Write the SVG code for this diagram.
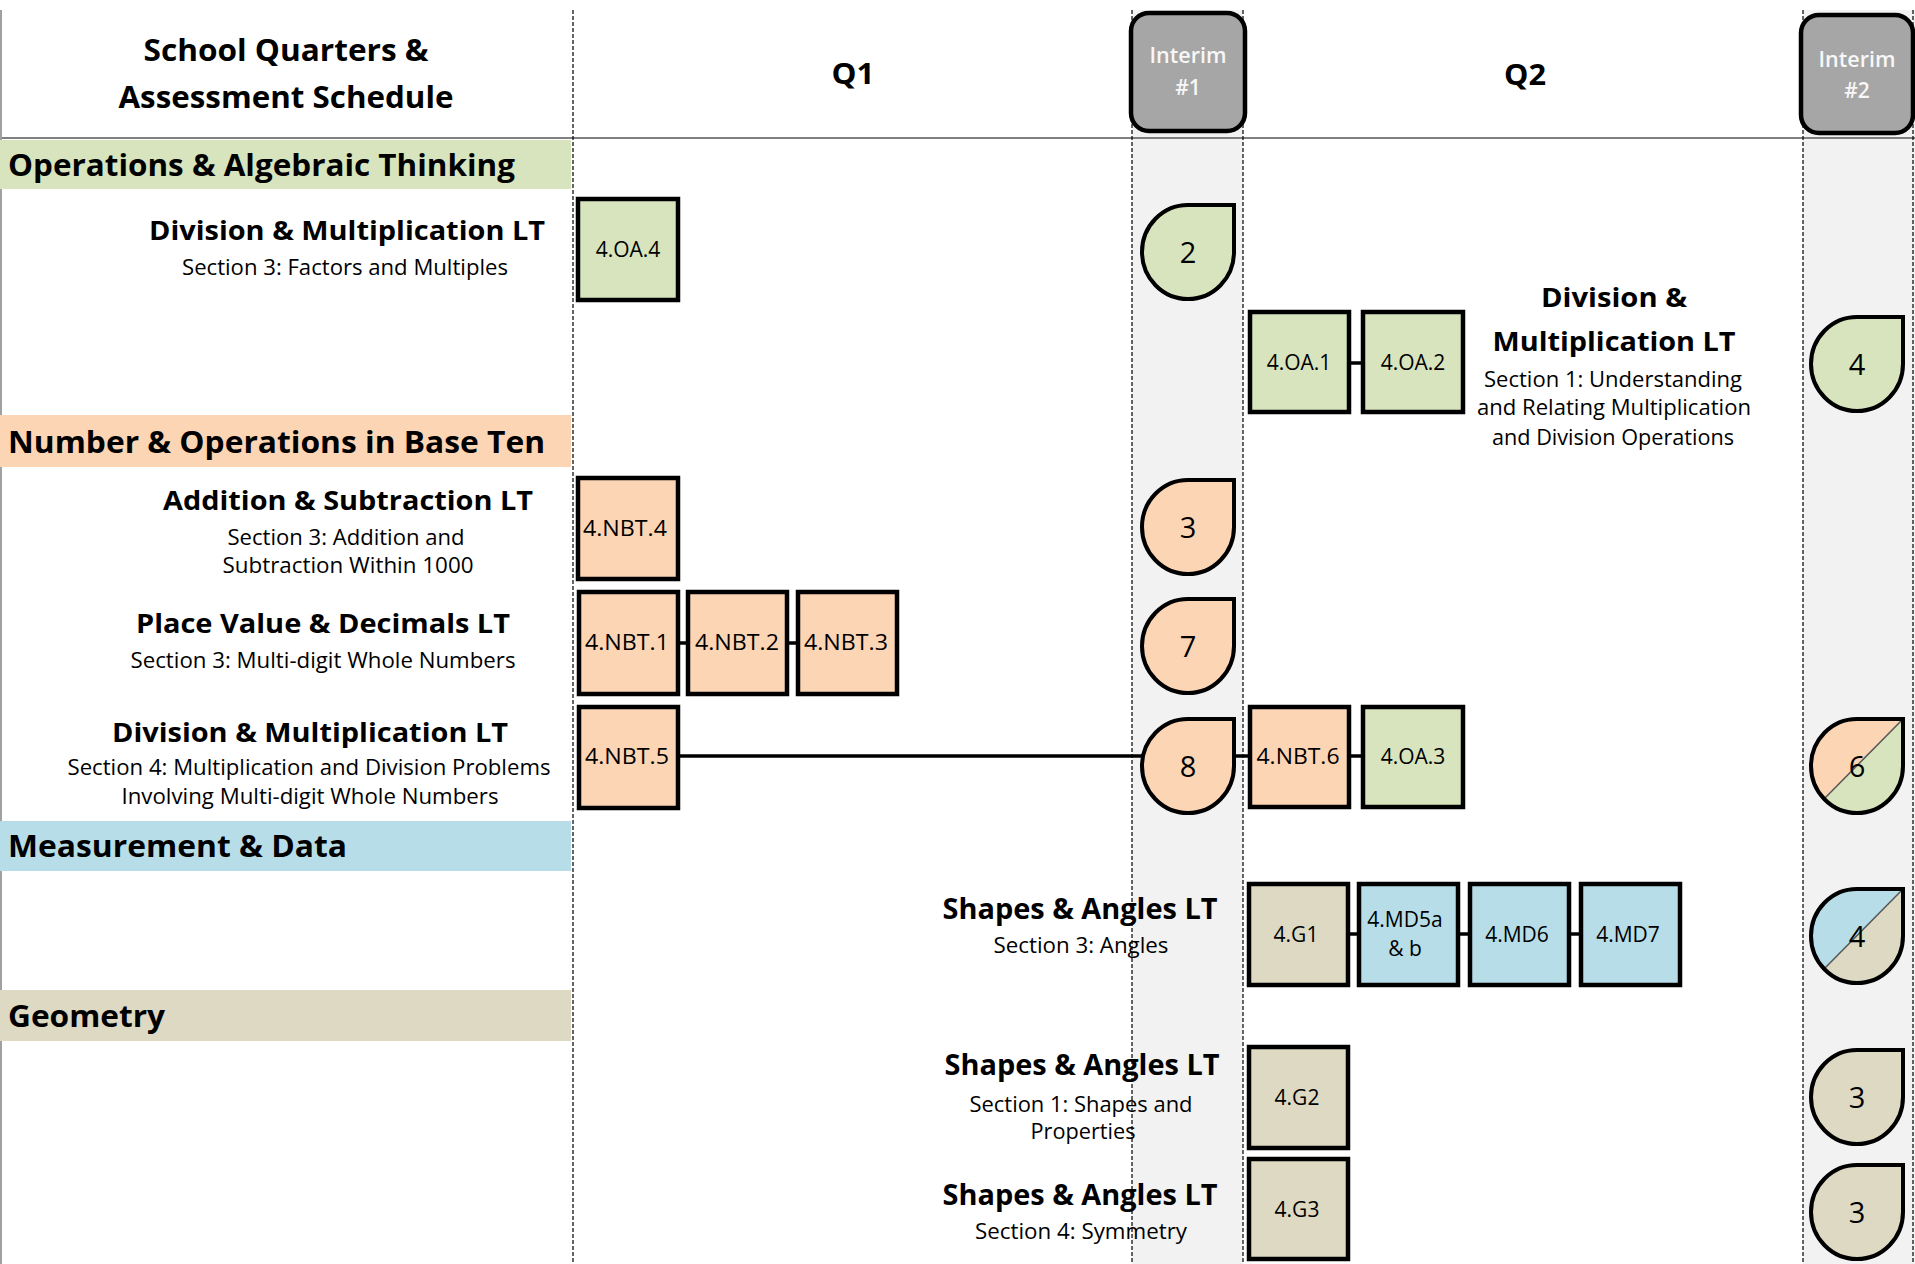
<svg xmlns="http://www.w3.org/2000/svg" width="1915" height="1264" viewBox="0 0 1915 1264">
  <style>
    text { font-family: "Open Sans", "Liberation Sans", sans-serif; fill: #000; }
    .title { font-size: 30px; font-weight: bold; }
    .quarter { font-size: 29px; font-weight: bold; }
    .band-label { font-size: 31px; font-weight: bold; }
    .lt { font-size: 27px; font-weight: bold; text-anchor: middle; }
    .sub { font-size: 21px; text-anchor: middle; }
    .std { font-size: 21px; text-anchor: middle; }
    .score { font-size: 29px; text-anchor: middle; }
    .interim-text { font-size: 21px; font-weight: 600; text-anchor: middle; fill: #f7f7f7; }
    .interim-box { fill: #a6a6a6; stroke: #000; stroke-width: 4.5; }
    .box { stroke: #000; stroke-width: 4.5; }
    .drop { stroke: #000; stroke-width: 4; }
    .oa { fill: #d7e4bd; }
    .nbt { fill: #fcd5b5; }
    .md { fill: #b7dee8; }
    .geo { fill: #ddd9c3; }
    .divider { stroke: #000; stroke-width: 1.2; stroke-dasharray: 4 2; }
    .link { stroke: #000; stroke-width: 3.5; }
    .split { stroke: #555; stroke-width: 1.5; }
  </style>
  <defs>
    <!-- teardrop: circle with a square top-right corner, centred on 0,0 -->
    <path id="drop" d="M0,-47 H46 V0 A46 47 0 0 1 0,47 A46 47 0 0 1 -46,0 A46 47 0 0 1 0,-47 Z"/>
    <clipPath id="drop-clip"><use href="#drop"/></clipPath>
  </defs>

  <!-- page background -->
  <rect x="0" y="0" width="1915" height="1264" fill="#fff"/>

  <!-- interim assessment columns -->
  <g id="columns">
    <rect x="1132" y="10" width="111" height="1254" fill="#f2f2f2"/>
    <rect x="1803" y="10" width="112" height="1254" fill="#f2f2f2"/>
    <line x1="0" y1="138" x2="1915" y2="138" stroke="#808080" stroke-width="2"/>
    <line x1="1" y1="10" x2="1" y2="1264" stroke="#a0a0a0" stroke-width="2"/>
  </g>

  <!-- column headings -->
  <g id="header">
    <text class="title" x="286" y="61" text-anchor="middle" textLength="285" lengthAdjust="spacingAndGlyphs">School Quarters &amp;</text>
    <text class="title" x="286" y="108" text-anchor="middle" textLength="335" lengthAdjust="spacingAndGlyphs">Assessment Schedule</text>
    <text class="quarter" x="853" y="84" text-anchor="middle" textLength="43" lengthAdjust="spacingAndGlyphs">Q1</text>
    <text class="quarter" x="1525" y="85" text-anchor="middle" textLength="42" lengthAdjust="spacingAndGlyphs">Q2</text>
  </g>

  <!-- domain bands -->
  <g id="domain-oa">
    <rect x="0" y="140" width="571" height="49" fill="#d7e4bd"/>
    <text class="band-label" x="8" y="176" textLength="507" lengthAdjust="spacingAndGlyphs">Operations &amp; Algebraic Thinking</text>
  </g>
  <g id="domain-nbt">
    <rect x="0" y="415" width="571" height="52" fill="#fcd5b5"/>
    <text class="band-label" x="8" y="453" textLength="537" lengthAdjust="spacingAndGlyphs">Number &amp; Operations in Base Ten</text>
  </g>
  <g id="domain-md">
    <rect x="0" y="821" width="571" height="50" fill="#b7dee8"/>
    <text class="band-label" x="8" y="857" textLength="339" lengthAdjust="spacingAndGlyphs">Measurement &amp; Data</text>
  </g>
  <g id="domain-geo">
    <rect x="0" y="990" width="571" height="51" fill="#ddd9c3"/>
    <text class="band-label" x="8" y="1027" textLength="157" lengthAdjust="spacingAndGlyphs">Geometry</text>
  </g>

  <!-- learning target labels -->
  <g id="lt-oa-s3">
    <text class="lt" x="347" y="240" textLength="396" lengthAdjust="spacingAndGlyphs">Division &amp; Multiplication LT</text>
    <text class="sub" x="345" y="275" textLength="326" lengthAdjust="spacingAndGlyphs">Section 3: Factors and Multiples</text>
  </g>
  <g id="lt-oa-s1">
    <text class="lt" x="1614" y="307" textLength="146" lengthAdjust="spacingAndGlyphs">Division &amp;</text>
    <text class="lt" x="1614" y="351" textLength="243" lengthAdjust="spacingAndGlyphs">Multiplication LT</text>
    <text class="sub" x="1613" y="387" style="font-size:22px" textLength="258" lengthAdjust="spacingAndGlyphs">Section 1: Understanding</text>
    <text class="sub" x="1614" y="415" style="font-size:22px" textLength="274" lengthAdjust="spacingAndGlyphs">and Relating Multiplication</text>
    <text class="sub" x="1613" y="445" style="font-size:22px" textLength="242" lengthAdjust="spacingAndGlyphs">and Division Operations</text>
  </g>
  <g id="lt-add-sub">
    <text class="lt" x="348" y="510" textLength="370" lengthAdjust="spacingAndGlyphs">Addition &amp; Subtraction LT</text>
    <text class="sub" x="346" y="545" textLength="237" lengthAdjust="spacingAndGlyphs">Section 3: Addition and</text>
    <text class="sub" x="348" y="573" textLength="251" lengthAdjust="spacingAndGlyphs">Subtraction Within 1000</text>
  </g>
  <g id="lt-place-value">
    <text class="lt" x="323" y="633" textLength="374" lengthAdjust="spacingAndGlyphs">Place Value &amp; Decimals LT</text>
    <text class="sub" x="323" y="668" textLength="385" lengthAdjust="spacingAndGlyphs">Section 3: Multi-digit Whole Numbers</text>
  </g>
  <g id="lt-nbt-s4">
    <text class="lt" x="310" y="742" textLength="396" lengthAdjust="spacingAndGlyphs">Division &amp; Multiplication LT</text>
    <text class="sub" x="309" y="775" textLength="483" lengthAdjust="spacingAndGlyphs">Section 4: Multiplication and Division Problems</text>
    <text class="sub" x="310" y="804" textLength="377" lengthAdjust="spacingAndGlyphs">Involving Multi-digit Whole Numbers</text>
  </g>
  <g id="lt-angles">
    <text class="lt" x="1080" y="919" style="font-size:28px" textLength="275" lengthAdjust="spacingAndGlyphs">Shapes &amp; Angles LT</text>
    <text class="sub" x="1081" y="953" textLength="175" lengthAdjust="spacingAndGlyphs">Section 3: Angles</text>
  </g>
  <g id="lt-shapes">
    <text class="lt" x="1082" y="1075" style="font-size:28px" textLength="275" lengthAdjust="spacingAndGlyphs">Shapes &amp; Angles LT</text>
    <text class="sub" x="1081" y="1112" textLength="223" lengthAdjust="spacingAndGlyphs">Section 1: Shapes and</text>
    <text class="sub" x="1083" y="1139" textLength="105" lengthAdjust="spacingAndGlyphs">Properties</text>
  </g>
  <g id="lt-symmetry">
    <text class="lt" x="1080" y="1205" style="font-size:28px" textLength="275" lengthAdjust="spacingAndGlyphs">Shapes &amp; Angles LT</text>
    <text class="sub" x="1081" y="1239" textLength="212" lengthAdjust="spacingAndGlyphs">Section 4: Symmetry</text>
  </g>

  <!-- dashed column dividers -->
  <g id="dividers">
    <line class="divider" x1="573" y1="10" x2="573" y2="1264"/>
    <line class="divider" x1="1132" y1="10" x2="1132" y2="1264"/>
    <line class="divider" x1="1243" y1="10" x2="1243" y2="1264"/>
    <line class="divider" x1="1803" y1="10" x2="1803" y2="1264"/>
    <line class="divider" x1="1913" y1="10" x2="1913" y2="1264"/>
  </g>

  <!-- interim headers -->
  <g id="interim-1">
    <rect class="interim-box" x="1131" y="13" width="114" height="118" rx="18"/>
    <text class="interim-text" x="1188" y="63" textLength="77" lengthAdjust="spacingAndGlyphs">Interim</text>
    <text class="interim-text" x="1188" y="95">#1</text>
  </g>
  <g id="interim-2">
    <rect class="interim-box" x="1801" y="15" width="112" height="118" rx="18"/>
    <text class="interim-text" x="1857" y="67" textLength="77" lengthAdjust="spacingAndGlyphs">Interim</text>
    <text class="interim-text" x="1857" y="98">#2</text>
  </g>

  <!-- connectors -->
  <g id="connectors">
    <line class="link" x1="678" y1="643" x2="688" y2="643"/>
    <line class="link" x1="787" y1="643" x2="798" y2="643"/>
    <line class="link" x1="678" y1="756" x2="1142" y2="756"/>
    <line class="link" x1="1233" y1="756" x2="1250" y2="756"/>
    <line class="link" x1="1349" y1="756" x2="1363" y2="756"/>
    <line class="link" x1="1349" y1="363" x2="1363" y2="363"/>
    <line class="link" x1="1348" y1="934" x2="1359" y2="934"/>
    <line class="link" x1="1458" y1="934" x2="1470" y2="934"/>
    <line class="link" x1="1569" y1="934" x2="1581" y2="934"/>
  </g>

  <!-- standards -->
  <g id="std-4-oa-4"><rect class="box oa" x="578" y="199" width="100" height="101"/><text class="std" x="628" y="257">4.OA.4</text></g>
  <g id="std-4-nbt-4"><rect class="box nbt" x="578" y="478" width="100" height="101"/><text class="std" x="625" y="536" textLength="84" lengthAdjust="spacingAndGlyphs">4.NBT.4</text></g>
  <g id="std-4-nbt-1"><rect class="box nbt" x="579" y="592" width="99" height="102"/><text class="std" x="627" y="650" textLength="84" lengthAdjust="spacingAndGlyphs">4.NBT.1</text></g>
  <g id="std-4-nbt-2"><rect class="box nbt" x="688" y="592" width="99" height="102"/><text class="std" x="737" y="650" textLength="84" lengthAdjust="spacingAndGlyphs">4.NBT.2</text></g>
  <g id="std-4-nbt-3"><rect class="box nbt" x="798" y="592" width="99" height="102"/><text class="std" x="846" y="650" textLength="84" lengthAdjust="spacingAndGlyphs">4.NBT.3</text></g>
  <g id="std-4-nbt-5"><rect class="box nbt" x="579" y="707" width="99" height="101"/><text class="std" x="627" y="764" textLength="84" lengthAdjust="spacingAndGlyphs">4.NBT.5</text></g>
  <g id="std-4-oa-1"><rect class="box oa" x="1250" y="312" width="99" height="100"/><text class="std" x="1299" y="370">4.OA.1</text></g>
  <g id="std-4-oa-2"><rect class="box oa" x="1363" y="312" width="100" height="100"/><text class="std" x="1413" y="370">4.OA.2</text></g>
  <g id="std-4-nbt-6"><rect class="box nbt" x="1250" y="707" width="99" height="100"/><text class="std" x="1298" y="764" textLength="83" lengthAdjust="spacingAndGlyphs">4.NBT.6</text></g>
  <g id="std-4-oa-3"><rect class="box oa" x="1363" y="707" width="100" height="100"/><text class="std" x="1413" y="764">4.OA.3</text></g>
  <g id="std-4-g1"><rect class="box geo" x="1249" y="884" width="99" height="101"/><text class="std" x="1296" y="942">4.G1</text></g>
  <g id="std-4-md5"><rect class="box md" x="1359" y="884" width="99" height="101"/><text class="std" x="1405" y="927">4.MD5a</text><text class="std" x="1405" y="956">&amp; b</text></g>
  <g id="std-4-md6"><rect class="box md" x="1470" y="884" width="99" height="101"/><text class="std" x="1517" y="942">4.MD6</text></g>
  <g id="std-4-md7"><rect class="box md" x="1581" y="884" width="99" height="101"/><text class="std" x="1628" y="942">4.MD7</text></g>
  <g id="std-4-g2"><rect class="box geo" x="1249" y="1047" width="99" height="101"/><text class="std" x="1297" y="1105">4.G2</text></g>
  <g id="std-4-g3"><rect class="box geo" x="1249" y="1159" width="99" height="100"/><text class="std" x="1297" y="1217">4.G3</text></g>

  <!-- interim #1 item counts -->
  <g id="i1-oa-s3" transform="translate(1188,252)"><use href="#drop" class="drop oa"/><text class="score" y="11">2</text></g>
  <g id="i1-add-sub" transform="translate(1188,527)"><use href="#drop" class="drop nbt"/><text class="score" y="11">3</text></g>
  <g id="i1-place-value" transform="translate(1188,646)"><use href="#drop" class="drop nbt"/><text class="score" y="11">7</text></g>
  <g id="i1-nbt-s4" transform="translate(1188,766)"><use href="#drop" class="drop nbt"/><text class="score" y="11">8</text></g>

  <!-- interim #2 item counts -->
  <g id="i2-oa-s1" transform="translate(1857,364)"><use href="#drop" class="drop oa"/><text class="score" y="11">4</text></g>
  <g id="i2-nbt-oa" transform="translate(1857,766)">
    <use href="#drop" class="nbt"/>
    <polygon class="oa" points="46,-47 46,47 -46,47" clip-path="url(#drop-clip)"/>
    <line class="split" x1="46" y1="-47" x2="-33" y2="33"/>
    <use href="#drop" class="drop" fill="none"/>
    <text class="score" y="11">6</text>
  </g>
  <g id="i2-md-geo" transform="translate(1857,936)">
    <use href="#drop" class="md"/>
    <polygon class="geo" points="46,-47 46,47 -46,47" clip-path="url(#drop-clip)"/>
    <line class="split" x1="46" y1="-47" x2="-33" y2="33"/>
    <use href="#drop" class="drop" fill="none"/>
    <text class="score" y="11">4</text>
  </g>
  <g id="i2-shapes" transform="translate(1857,1097)"><use href="#drop" class="drop geo"/><text class="score" y="11">3</text></g>
  <g id="i2-symmetry" transform="translate(1857,1212)"><use href="#drop" class="drop geo"/><text class="score" y="11">3</text></g>
</svg>
